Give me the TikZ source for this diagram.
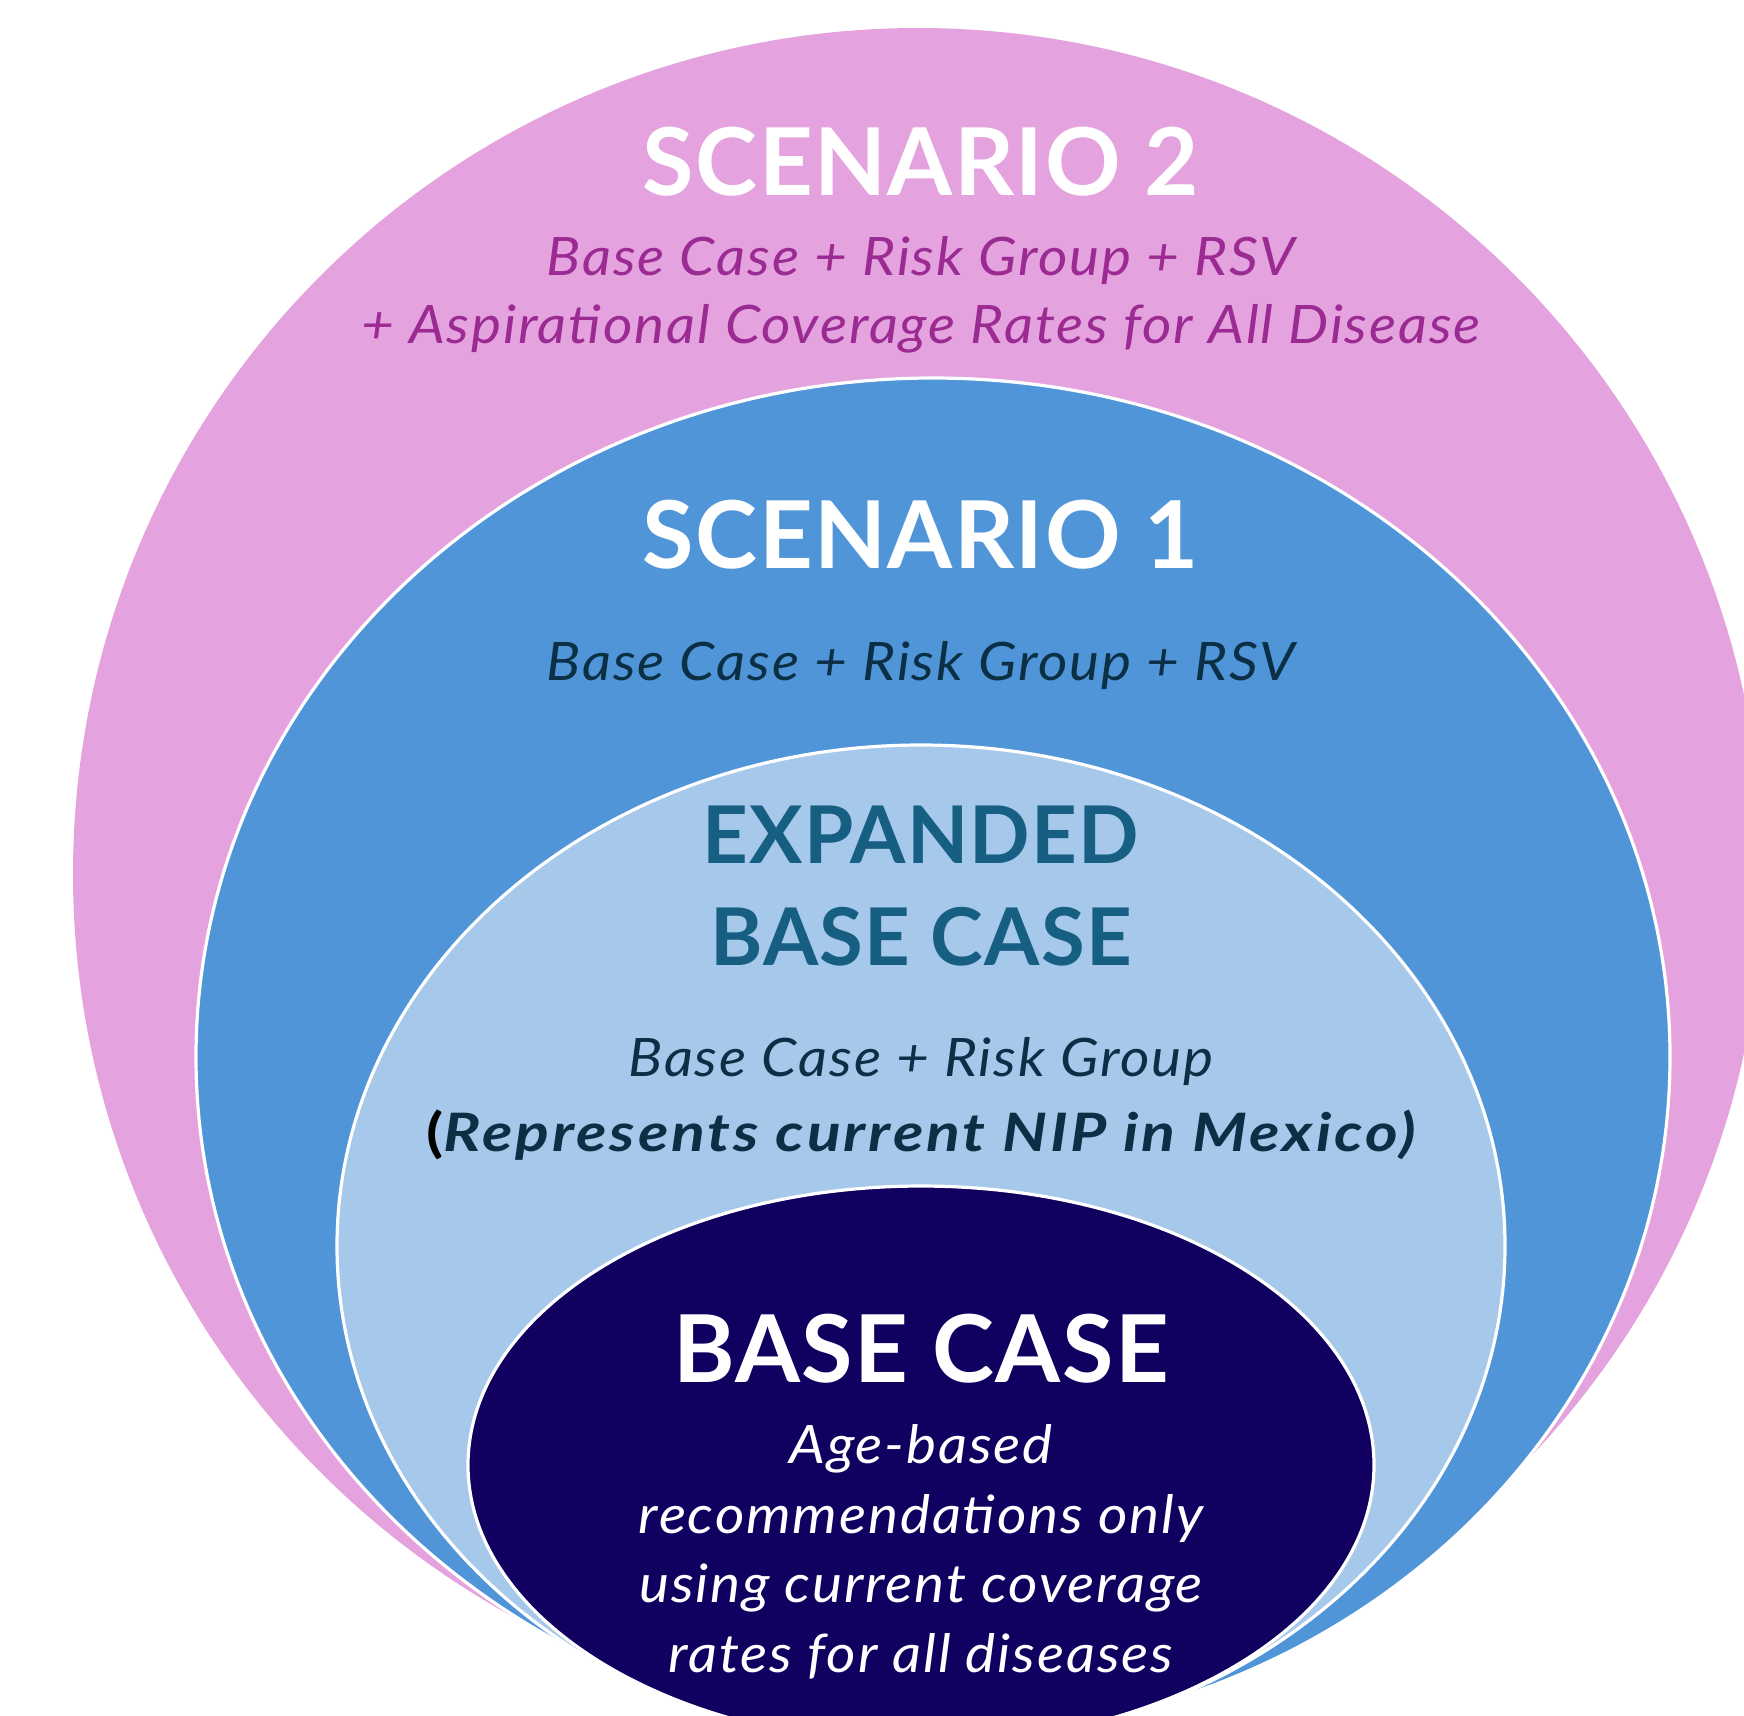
\documentclass[tikz,border=0pt]{standalone}
\usepackage{fontspec}
\setmainfont{Lato}
\newfontfamily\titlefam[LetterSpace=1.5]{Lato}
\newfontfamily\subfam[FakeStretch=1.07,LetterSpace=3.5]{Lato}
\newfontfamily\nipfam[FakeStretch=1.18,LetterSpace=5.5]{Lato}
\definecolor{pinkbg}{HTML}{E4A3DE}
\definecolor{bluebg}{HTML}{5195D9}
\definecolor{lightbg}{HTML}{A6C8EA}
\definecolor{navybg}{HTML}{11005F}
\definecolor{purpletxt}{HTML}{9B2A93}
\definecolor{darktxt}{HTML}{0B3045}
\definecolor{tealtxt}{HTML}{165F82}
\begin{document}
\begin{tikzpicture}[x=0.5pt,y=-0.5pt,
  bigtitle/.style={anchor=base, inner sep=0pt, font=\titlefam\fontsize{46.8}{50}\selectfont\bfseries, text=white},
  midtitle/.style={anchor=base, inner sep=0pt, font=\titlefam\fontsize{39.8}{44}\selectfont\bfseries, text=tealtxt},
  subline/.style={anchor=base, inner sep=0pt, font=\subfam\fontsize{26.5}{30}\selectfont\itshape},
  nipline/.style={anchor=base, inner sep=0pt, font=\nipfam\fontsize{26.5}{30}\selectfont\bfseries\itshape},
  ring/.style={draw=white, line width=1.6pt}]
\useasboundingbox (0,0) rectangle (1744,1715);
\clip (0,0) rectangle (1744,1715);
\fill[pinkbg] (918,874) ellipse [x radius=422.5pt, y radius=423pt];
\fill[bluebg, ring] (933,1057) ellipse [x radius=368.5pt, y radius=339.5pt];
\fill[lightbg, ring] (921,1246) ellipse [x radius=292pt, y radius=250.5pt];
\fill[navybg, ring] (921,1465) ellipse [x radius=226.5pt, y radius=139.5pt];

\node[bigtitle] (s2t) at (921,195) {SCENARIO 2};
\node[subline, text=purpletxt] (s2a) at (921,275) {Base Case + Risk Group + RSV};
\node[subline, text=purpletxt] (s2b) at (921,343) {+ Aspirational Coverage Rates for All Disease};

\node[bigtitle] (s1t) at (921,568) {SCENARIO 1};
\node[subline, text=darktxt] (s1a) at (921,680) {Base Case + Risk Group + RSV};

\node[midtitle] (ebt1) at (921,863) {EXPANDED};
\node[midtitle] (ebt2) at (921,965) {BASE CASE};
\node[subline, text=darktxt] (eba) at (921,1076) {Base Case + Risk Group};
\node[nipline, text=darktxt] (ebb) at (921,1151) {{\color{black}\upshape(}Represents current NIP in Mexico)};

\node[bigtitle] (bct) at (921,1382) {BASE CASE};
\node[subline, text=white] (bc1) at (921,1463) {Age-based};
\node[subline, text=white] (bc2) at (921,1533) {recommendations only};
\node[subline, text=white] (bc3) at (921,1602) {using current coverage};
\node[subline, text=white] (bc4) at (921,1672) {rates for all diseases};
\end{tikzpicture}
\end{document}
